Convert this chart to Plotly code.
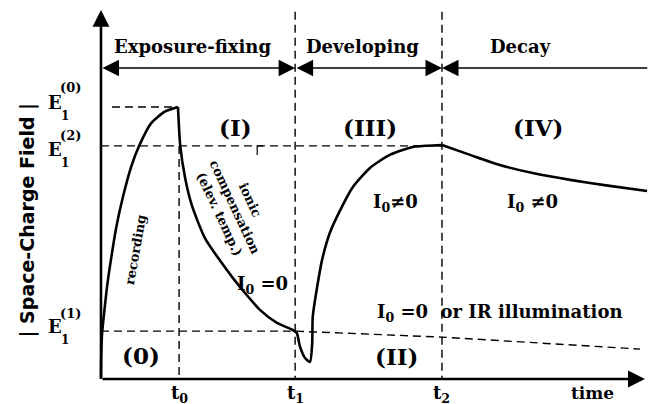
import plotly.graph_objects as go

# time marks and field levels (arbitrary units)
t_marks = {'t0': 1.42, 't1': 3.53, 't2': 6.20}
t_end = 9.89
E0_level = 10.0
E2_level = 8.57
E1_level = 1.76
top_arrow_y = 11.43
y_top = 13.57

# recording phase (0)
rec_t = [0, 0.005, 0.02, 0.05, 0.11, 0.19, 0.28, 0.40, 0.55, 0.70, 0.91, 1.16, 1.40]
rec_E = [0, 0.90, 1.69, 2.29, 3.39, 4.50, 5.60, 6.70, 7.81, 8.60, 9.40, 9.83, 10.0]

# ionic compensation, then developing dip and rise
mid_t = [1.40, 1.44, 1.53, 1.65, 1.89, 2.40, 2.89, 3.20, 3.49, 3.56, 3.62, 3.71, 3.80,
         3.84, 3.85, 3.93, 4.02, 4.16, 4.35, 4.58, 4.89, 5.25, 5.67, 6.11, 6.20]
mid_E = [10.0, 8.60, 7.39, 6.40, 5.18, 3.71, 2.54, 2.06, 1.80, 1.69, 1.18, 0.77, 0.63,
         1.32, 2.28, 3.38, 4.38, 5.37, 6.21, 7.06, 7.76, 8.24, 8.53, 8.59, 8.60]

# decay phase (IV)
dec_t = [6.20, 6.71, 7.25, 7.85, 8.53, 9.25, 9.93]
dec_E = [8.60, 8.24, 7.87, 7.57, 7.32, 7.10, 6.91]

# dashed decay without illumination (II)
dark_t = [0, 3.53, 6.20, 9.80]
dark_E = [1.76, 1.76, 1.54, 1.10]

SERIF = "DejaVu Serif"
fig = go.Figure()

dash = dict(color='black', width=1.4, dash='8px,5px')
fig.add_trace(go.Scatter(x=[0.2, 1.40], y=[E0_level, E0_level], mode='lines', line=dash))
fig.add_trace(go.Scatter(x=[0, t_marks['t2']], y=[E2_level, E2_level], mode='lines', line=dash))
fig.add_trace(go.Scatter(x=dark_t, y=dark_E, mode='lines', line=dash))
fig.add_trace(go.Scatter(x=[t_marks['t0'], t_marks['t0']], y=[E2_level, 0], mode='lines', line=dash))
fig.add_trace(go.Scatter(x=[t_marks['t1'], t_marks['t1']], y=[13.5, 0], mode='lines', line=dash))
fig.add_trace(go.Scatter(x=[t_marks['t2'], t_marks['t2']], y=[13.5, 0], mode='lines', line=dash))
fig.add_trace(go.Scatter(x=[2.84, 2.84, 2.95], y=[8.24, E2_level, E2_level], mode='lines',
                         line=dict(color='black', width=1.2)))

solid = dict(color='black', width=2.6, shape='spline', smoothing=0.6)
for xs, ys in [(rec_t, rec_E), (mid_t, mid_E), (dec_t, dec_E)]:
    fig.add_trace(go.Scatter(x=xs, y=ys, mode='lines', line=solid))

# axes with arrows
def arrow(x0, y0, x1, y1, width, size, side='end'):
    fig.add_annotation(x=x1, y=y1, ax=x0, ay=y0, xref='x', yref='y', axref='x', ayref='y',
                       text='', showarrow=True, arrowhead=2, arrowsize=size, arrowwidth=width,
                       arrowside=side, arrowcolor='black', standoff=0, startstandoff=0)

arrow(0, 0, 0, y_top, 2.6, 1.3)
arrow(0, 0, t_end, 0, 2.6, 1.3)
arrow(0, top_arrow_y, t_marks['t1'], top_arrow_y, 1.5, 2.2, 'end+start')
arrow(t_marks['t1'], top_arrow_y, t_marks['t2'], top_arrow_y, 1.5, 2.2, 'end+start')
arrow(9.96, top_arrow_y, t_marks['t2'], top_arrow_y, 1.5, 2.2, 'end')

def label(x, y, text, size=16, angle=0, family=SERIF):
    fig.add_annotation(x=x, y=y, xref='x', yref='y', text=text, showarrow=False,
                       textangle=angle, font=dict(family=family, size=size, color='black'))

label(1.67, 12.21, '<b>Exposure-fixing</b>', 18)
label(4.75, 12.21, '<b>Developing</b>', 18)
label(7.62, 12.21, '<b>Decay</b>', 18)

label(2.45, 9.26, '<b>(I)</b>', 23)
label(4.89, 9.26, '<b>(III)</b>', 23)
label(7.95, 9.26, '<b>(IV)</b>', 23)
label(0.73, 0.88, '<b>(0)</b>', 23)
label(5.38, 0.81, '<b>(II)</b>', 23)

label(0.62, 4.74, '<b>recording</b>', 13, -80)
label(2.44, 6.32, '<b>ionic<br>compensation<br>(elev. temp.)</b>', 13, 65)

label(2.93, 3.46, '<b>I<sub>0</sub> =0</b>', 18)
label(5.35, 6.47, '<b>I<sub>0</sub>≠0</b>', 18)
label(7.84, 6.47, '<b>I<sub>0</sub> ≠0</b>', 18)
label(7.25, 2.43, '<b>I<sub>0</sub> =0  or IR illumination</b>', 18)

for name, tx in t_marks.items():
    label(tx, -0.55, '<b>t<sub>%s</sub></b>' % name[1], 18)
label(8.93, -0.51, '<b>time</b>', 17)

# E_1^(n) level labels: (level, superscript, E offset, sup offset, sub offset)
E_labels = [(E0_level, '(0)', 0.15, 0.70, -0.33),
            (E2_level, '(2)', -0.15, 0.37, -0.62),
            (E1_level, '(1)', 0.18, 0.66, -0.33)]
for lvl, sup, dE, dsup, dsub in E_labels:
    label(-0.84, lvl + dE, '<b>E</b>', 18)
    label(-0.55, lvl + dsup, '<b>%s</b>' % sup, 13)
    label(-0.65, lvl + dsub, '<b>1</b>', 12)

label(-1.33, 5.86, '<b>| Space-Charge Field |</b>', 19, -90, "DejaVu Sans")

fig.update_layout(
    width=649, height=404,
    margin=dict(l=0, r=0, t=0, b=0),
    paper_bgcolor='white', plot_bgcolor='white',
    showlegend=False,
    xaxis=dict(visible=False, range=[-1.836, 9.964]),
    yaxis=dict(visible=False, range=[-0.919, 13.934]),
)
fig.write_html("out.html", config={'displayModeBar': False},
               post_script="document.body.style.margin='0px';")
